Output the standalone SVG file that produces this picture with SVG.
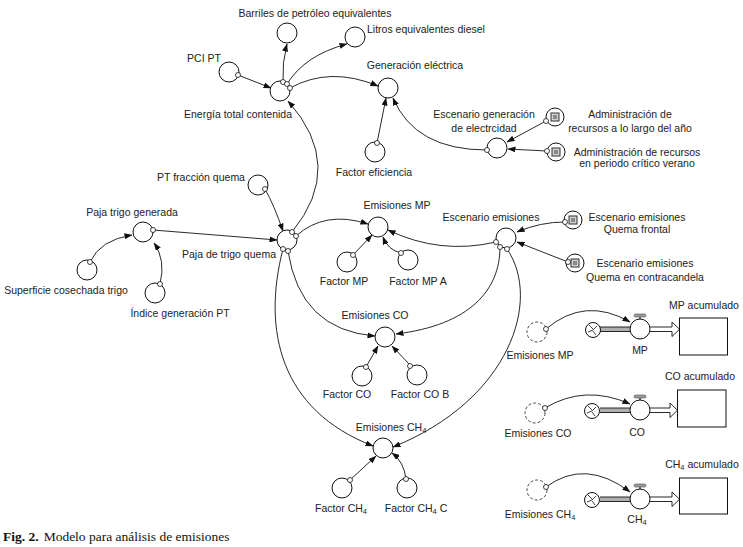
<svg xmlns="http://www.w3.org/2000/svg" width="743" height="547" viewBox="0 0 743 547">
<defs>
<marker id="ah" markerWidth="8" markerHeight="6" refX="7.5" refY="3" orient="auto" markerUnits="userSpaceOnUse"><path d="M0,0 L8,3 L0,6 z" fill="#111"/></marker>
<style>
.n{fill:#fff;stroke:#111;stroke-width:1}
.c{fill:none;stroke:#111;stroke-width:0.9;marker-end:url(#ah)}
.s{fill:#fff;stroke:#111;stroke-width:0.8}
.t{font-family:"Liberation Sans",Arial,sans-serif;font-size:10.5px;fill:#222;text-anchor:middle}
.ts{font-family:"Liberation Sans",Arial,sans-serif;font-size:10.5px;fill:#222}
.sub{font-size:7.5px}
.gh{fill:#fff;stroke:#333;stroke-width:0.9;stroke-dasharray:3 2}
.sq{fill:#d0d0d0;stroke:#333;stroke-width:1}
.sqi{fill:#8a8a8a}
.st{fill:#fff;stroke:#111;stroke-width:1}
.pipe{stroke:#111;stroke-width:0.9}
.cl{fill:none;stroke:#111;stroke-width:0.8}
</style>
</defs>
<rect width="743" height="547" fill="#fff"/>

<g id="n-barriles"><circle class="n" cx="287" cy="33" r="10"/><text class="t" x="315" y="17">Barriles de petróleo equivalentes</text></g>
<g id="n-litros"><circle class="n" cx="355" cy="37" r="10"/><text class="ts" x="367" y="33">Litros equivalentes diesel</text></g>
<g id="n-pci"><circle class="n" cx="229" cy="72" r="10"/><text class="t" x="204" y="62">PCI PT</text></g>
<g id="n-energia"><circle class="n" cx="280" cy="91" r="10"/><text class="t" x="238" y="118">Energía total contenida</text></g>
<g id="n-generacion"><circle class="n" cx="388" cy="88" r="10"/><text class="t" x="415" y="69">Generación eléctrica</text></g>
<g id="n-factor-eficiencia"><circle class="n" cx="375" cy="152" r="10"/><text class="t" x="374" y="176">Factor eficiencia</text></g>
<g id="n-escenario-gen"><circle class="n" cx="497" cy="148" r="10"/><text class="t" x="484" y="118">Escenario generación</text><text class="t" x="484" y="132">de electrcidad</text></g>
<g id="n-admin-anio"><circle class="n" cx="555" cy="117" r="9"/><rect class="sq" x="551" y="113" width="8" height="8"/><rect class="sqi" x="553" y="115" width="4" height="4"/><text class="t" x="630" y="118">Administración de</text><text class="t" x="630" y="132">recursos a lo largo del año</text></g>
<g id="n-admin-verano"><circle class="n" cx="556" cy="152" r="9"/><rect class="sq" x="552" y="148" width="8" height="8"/><rect class="sqi" x="554" y="150" width="4" height="4"/><text class="t" x="637" y="156">Administración de recursos</text><text class="t" x="637" y="167">en periodo crítico verano</text></g>
<g id="n-pt-fraccion"><circle class="n" cx="258" cy="185" r="10"/><text class="t" x="201" y="181">PT fracción quema</text></g>
<g id="n-paja-generada"><circle class="n" cx="143" cy="232" r="10"/><text class="t" x="132" y="216">Paja trigo generada</text></g>
<g id="n-paja-quema"><circle class="n" cx="287" cy="240" r="10"/><text class="t" x="229" y="258">Paja de trigo quema</text></g>
<g id="n-superficie"><circle class="n" cx="87" cy="270" r="10"/><text class="t" x="66" y="294">Superficie cosechada trigo</text></g>
<g id="n-indice"><circle class="n" cx="155" cy="293" r="10"/><text class="t" x="180" y="317">Índice generación PT</text></g>
<g id="n-emisiones-mp"><circle class="n" cx="378" cy="227" r="10"/><text class="t" x="397" y="209">Emisiones MP</text></g>
<g id="n-factor-mp"><circle class="n" cx="347" cy="262" r="10"/><text class="t" x="344" y="285">Factor MP</text></g>
<g id="n-factor-mp-a"><circle class="n" cx="408" cy="260" r="10"/><text class="t" x="418" y="285">Factor MP A</text></g>
<g id="n-escenario-emis"><circle class="n" cx="506" cy="238" r="10"/><text class="t" x="491" y="221">Escenario emisiones</text></g>
<g id="n-quema-frontal"><circle class="n" cx="573" cy="220" r="9"/><rect class="sq" x="569" y="216" width="8" height="8"/><rect class="sqi" x="571" y="218" width="4" height="4"/><text class="t" x="637" y="221">Escenario emisiones</text><text class="t" x="637" y="233">Quema frontal</text></g>
<g id="n-quema-contra"><circle class="n" cx="575" cy="263" r="9"/><rect class="sq" x="571" y="259" width="8" height="8"/><rect class="sqi" x="573" y="261" width="4" height="4"/><text class="t" x="645" y="267">Escenario emisiones</text><text class="t" x="645" y="281">Quema en contracandela</text></g>
<g id="n-emisiones-co"><circle class="n" cx="385" cy="337" r="10"/><text class="t" x="375" y="319">Emisiones CO</text></g>
<g id="n-factor-co"><circle class="n" cx="362" cy="376" r="10"/><text class="t" x="347" y="398">Factor CO</text></g>
<g id="n-factor-co-b"><circle class="n" cx="417" cy="375" r="10"/><text class="t" x="420" y="398">Factor CO B</text></g>
<g id="n-emisiones-ch4"><circle class="n" cx="383" cy="448" r="10"/><text class="t" x="391" y="431">Emisiones CH<tspan class="sub" dy="2">4</tspan></text></g>
<g id="n-factor-ch4"><circle class="n" cx="342" cy="488" r="10"/><text class="t" x="341" y="512">Factor CH<tspan class="sub" dy="2">4</tspan></text></g>
<g id="n-factor-ch4-c"><circle class="n" cx="407" cy="488" r="10"/><text class="t" x="416" y="512">Factor CH<tspan class="sub" dy="2">4</tspan><tspan dy="-2"> C</tspan></text></g>

<g id="n-ghost-mp"><circle class="gh" cx="537" cy="332" r="10"/><text class="t" x="540" y="359">Emisiones MP</text></g>
<g id="n-ghost-co"><circle class="gh" cx="535" cy="413" r="10"/><text class="t" x="538" y="437">Emisiones CO</text></g>
<g id="n-ghost-ch4"><circle class="gh" cx="537" cy="490" r="10"/><text class="t" x="540" y="518">Emisiones CH<tspan class="sub" dy="2">4</tspan></text></g>

<g id="flows">
  <rect x="600" y="327" width="31" height="4.5" fill="#b0b0b0" stroke="none"/>
  <line class="pipe" x1="600" y1="327" x2="631" y2="327"/><line class="pipe" x1="600" y1="331.5" x2="631" y2="331.5"/>
  <line class="pipe" x1="650" y1="327" x2="672" y2="327"/><line class="pipe" x1="650" y1="331.5" x2="672" y2="331.5"/>
  <path d="M672,327 V322 L679.5,329.25 L672,336.5 V331.5" fill="#fff" stroke="#111" stroke-width="0.9"/>
  <rect x="600" y="408" width="31" height="4.5" fill="#b0b0b0" stroke="none"/>
  <line class="pipe" x1="600" y1="408" x2="631" y2="408"/><line class="pipe" x1="600" y1="412.5" x2="631" y2="412.5"/>
  <line class="pipe" x1="650" y1="408" x2="670" y2="408"/><line class="pipe" x1="650" y1="412.5" x2="670" y2="412.5"/>
  <path d="M670,408 V403 L677.5,410.25 L670,417.5 V412.5" fill="#fff" stroke="#111" stroke-width="0.9"/>
  <rect x="600" y="497" width="31" height="4.5" fill="#b0b0b0" stroke="none"/>
  <line class="pipe" x1="600" y1="497" x2="631" y2="497"/><line class="pipe" x1="600" y1="501.5" x2="631" y2="501.5"/>
  <line class="pipe" x1="650" y1="497" x2="672" y2="497"/><line class="pipe" x1="650" y1="501.5" x2="672" y2="501.5"/>
  <path d="M672,497 V492 L679.5,499.25 L672,506.5 V501.5" fill="#fff" stroke="#111" stroke-width="0.9"/>
</g>

<g id="n-cloud-mp"><circle class="n" cx="593" cy="330" r="7.5"/><path class="cl" d="M589,325 l4,4 M597,326 l-4,4 M596,335 l-3,-4 M588,332 l5,-2"/></g>
<g id="n-cloud-co"><circle class="n" cx="592" cy="411" r="7.5"/><path class="cl" d="M588,406 l4,4 M596,407 l-4,4 M595,416 l-3,-4 M587,413 l5,-2"/></g>
<g id="n-cloud-ch4"><circle class="n" cx="592" cy="500" r="7.5"/><path class="cl" d="M588,495 l4,4 M596,496 l-4,4 M595,505 l-3,-4 M587,502 l5,-2"/></g>

<g id="n-valve-mp"><line x1="640" y1="316" x2="640" y2="319" stroke="#111" stroke-width="1.2"/><rect x="634" y="314" width="12" height="3" rx="1.5" fill="#999" stroke="#555" stroke-width="0.6"/><circle class="n" cx="640" cy="329" r="10"/><text class="t" x="640" y="354">MP</text></g>
<g id="n-valve-co"><line x1="640" y1="397" x2="640" y2="400" stroke="#111" stroke-width="1.2"/><rect x="634" y="395" width="12" height="3" rx="1.5" fill="#999" stroke="#555" stroke-width="0.6"/><circle class="n" cx="640" cy="410" r="10"/><text class="t" x="637" y="436">CO</text></g>
<g id="n-valve-ch4"><line x1="640" y1="486" x2="640" y2="489" stroke="#111" stroke-width="1.2"/><rect x="634" y="484" width="12" height="3" rx="1.5" fill="#999" stroke="#555" stroke-width="0.6"/><circle class="n" cx="640" cy="499" r="10"/><text class="t" x="637" y="523">CH<tspan class="sub" dy="2">4</tspan></text></g>

<g id="n-stock-mp"><rect class="st" x="679.5" y="318" width="48" height="37"/><text class="t" x="704" y="309">MP acumulado</text></g>
<g id="n-stock-co"><rect class="st" x="677.5" y="390" width="48.5" height="37"/><text class="t" x="700" y="380">CO acumulado</text></g>
<g id="n-stock-ch4"><rect class="st" x="679.5" y="478" width="48" height="36"/><text class="t" x="702" y="468">CH<tspan class="sub" dy="2">4</tspan><tspan dy="-2"> acumulado</tspan></text></g>

<g id="connectors">
  <path class="c" d="M283,82 Q282,62 287,44"/>
  <path class="c" d="M287,84 Q305,55 347,44"/>
  <path class="c" d="M238,75 L271,88"/>
  <path class="c" d="M290,88 Q330,66 378,86"/>
  <path class="c" d="M377,143 L386,98"/>
  <path class="c" d="M487,150 Q415,150 393,98"/>
  <path class="c" d="M546,121 L507,142"/>
  <path class="c" d="M547,151 L508,149"/>
  <path class="c" d="M292,232 Q346,166 288,101"/>
  <path class="c" d="M265,189 Q274,205 283,231"/>
  <path class="c" d="M153,230 L277,240"/>
  <path class="c" d="M90,262 Q100,240 132,235"/>
  <path class="c" d="M160,284 Q166,260 154,243"/>
  <path class="c" d="M296,236 Q325,210 368,224"/>
  <path class="c" d="M496,242 Q440,255 388,230"/>
  <path class="c" d="M353,255 L372,235"/>
  <path class="c" d="M401,253 Q388,250 383,237"/>
  <path class="c" d="M288,251 Q300,330 375,336"/>
  <path class="c" d="M500,247 C500,290 470,325 396,334"/>
  <path class="c" d="M366,367 L378,346"/>
  <path class="c" d="M410,365 L392,346"/>
  <path class="c" d="M283,249 C262,330 280,410 373,446"/>
  <path class="c" d="M507,249 C542,300 510,400 393,447"/>
  <path class="c" d="M350,480 L376,456"/>
  <path class="c" d="M406,479 Q404,462 392,453"/>
  <path class="c" d="M565,222 Q540,222 517,232"/>
  <path class="c" d="M568,262 L517,242"/>
  <path class="c" d="M546,329 Q585,296 630,322"/>
  <path class="c" d="M545,408 Q585,384 630,404"/>
  <path class="c" d="M546,487 Q585,458 630,492"/>
  <g>
    <circle class="s" cx="283" cy="82" r="2.5"/><circle class="s" cx="287" cy="84" r="2.5"/><circle class="s" cx="290" cy="88" r="2.5"/>
    <circle class="s" cx="238" cy="75" r="2.5"/><circle class="s" cx="377" cy="143" r="2.5"/><circle class="s" cx="487" cy="150" r="2.5"/>
    <circle class="s" cx="546" cy="121" r="2.5"/><circle class="s" cx="547" cy="151" r="2.5"/>
    <circle class="s" cx="292" cy="232" r="2.5"/><circle class="s" cx="296" cy="236" r="2.5"/><circle class="s" cx="288" cy="251" r="2.5"/><circle class="s" cx="283" cy="249" r="2.5"/>
    <circle class="s" cx="265" cy="189" r="2.5"/><circle class="s" cx="153" cy="230" r="2.5"/><circle class="s" cx="90" cy="262" r="2.5"/><circle class="s" cx="160" cy="284" r="2.5"/>
    <circle class="s" cx="496" cy="242" r="2.5"/><circle class="s" cx="500" cy="247" r="2.5"/><circle class="s" cx="507" cy="249" r="2.5"/>
    <circle class="s" cx="353" cy="255" r="2.5"/><circle class="s" cx="401" cy="253" r="2.5"/>
    <circle class="s" cx="366" cy="367" r="2.5"/><circle class="s" cx="410" cy="366" r="2.5"/>
    <circle class="s" cx="350" cy="480" r="2.5"/><circle class="s" cx="406" cy="479" r="2.5"/>
    <circle class="s" cx="565" cy="222" r="2.5"/><circle class="s" cx="568" cy="262" r="2.5"/>
    <circle class="s" cx="546" cy="329" r="2.5"/><circle class="s" cx="545" cy="408" r="2.5"/><circle class="s" cx="546" cy="487" r="2.5"/>
  </g>
</g>

<text x="3" y="541" font-family="Liberation Serif,'Times New Roman',serif" font-size="13.5" fill="#111"><tspan font-weight="bold">Fig. 2.</tspan><tspan dx="5">Modelo para análisis de emisiones</tspan></text>
</svg>
